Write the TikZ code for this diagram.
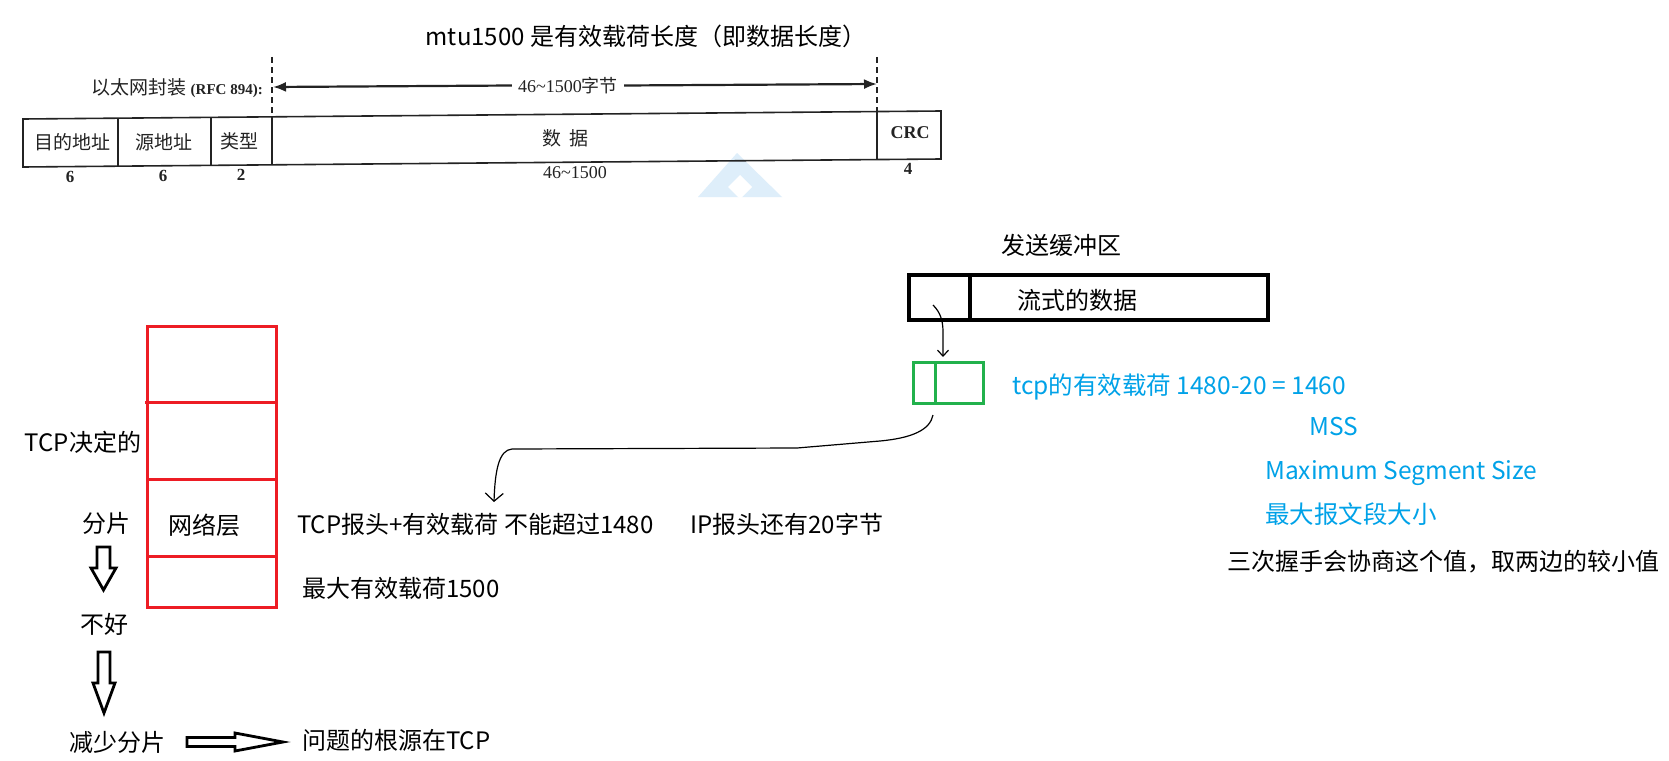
\documentclass[tikz,border=0pt]{standalone}
\usepackage{fontspec}
\setmainfont{Noto Sans CJK SC}
\newfontfamily\scanserif{Liberation Serif}
\usetikzlibrary{arrows.meta}
\definecolor{mspblue}{RGB}{0,162,232}
\definecolor{mspgreen}{RGB}{34,177,76}
\definecolor{mspred}{RGB}{237,28,36}
\definecolor{scangray}{RGB}{35,35,35}
\definecolor{wmblue}{RGB}{222,238,250}
\begin{document}
\begin{tikzpicture}[x=1pt,y=-1pt,
  txt/.style={font=\fontsize{24}{28}\selectfont, inner sep=0pt},
  bluetxt/.style={font=\fontsize{24.5}{28}\selectfont, inner sep=0pt, text=mspblue},
  scantxt/.style={font=\fontsize{19}{21}\selectfont, text=scangray, inner sep=0pt},
  scannum/.style={font=\scanserif\bfseries\fontsize{17}{19}\selectfont, text=scangray, inner sep=0pt},
  scanline/.style={draw=scangray, line width=1.6pt},
  scandash/.style={draw=scangray, line width=1.6pt, dash pattern=on 6pt off 4pt},
  thinarrow/.style={draw=black, line width=1.2pt, -{Straight Barb[length=7pt,width=12pt]}},
  blockarrow/.style={draw=black, line width=2.8pt, fill=white, line join=miter},
  redline/.style={draw=mspred, line width=3pt}
]
\useasboundingbox[fill=white] (0,0) rectangle (1669,760);

% watermark
\fill[wmblue] (698,197) -- (737,153) -- (782,197) -- cycle;
\fill[white] (740,175) -- (752,187) -- (740,199) -- (728,187) -- cycle;

% ---------- title ----------
\node[txt] (title) at (646,36) {mtu1500 是有效载荷长度（即数据长度）};

% ---------- ethernet frame (scanned figure, slightly tilted) ----------
\node[scantxt, anchor=east] (ethlbl) at (263,88) {以太网封装 {\scanserif\bfseries\fontsize{15}{17}\selectfont (RFC 894):}};
\draw[scandash] (272,57) -- (272,117);
\draw[scandash] (877,57) -- (877,112);
\coordinate (arL) at (273,87);
\coordinate (arR) at (877,84);
\node[scantxt, fill=white, inner xsep=6pt, font=\scanserif\fontsize{18}{20}\selectfont] (bytes) at (568,85.5) {46\textasciitilde1500{\fontspec{Noto Sans CJK SC}字节}};
\draw[scanline, line width=2.2pt, -{Latex[length=13pt,width=10pt]}] (bytes.west) -- (arL);
\draw[scanline, line width=2.2pt, -{Latex[length=13pt,width=10pt]}] (bytes.east) -- (arR);

\draw[scanline] (23,119) -- (941,111) -- (941,159) -- (23,167) -- cycle;
\draw[scanline] (118,118.2) -- (118,166.2);
\draw[scanline] (211,117.4) -- (211,165.4);
\draw[scanline] (272,116.8) -- (272,164.8);
\draw[scanline] (877,111.6) -- (877,159.6);

\node[scantxt] (f1) at (72,142.6) {目的地址};
\node[scantxt] (f2) at (164,141.8) {源地址};
\node[scantxt] (f3) at (239,141.1) {类型};
\node[scantxt] (f4) at (565,138.3) {数\hspace{8pt}据};
\node[scannum, font=\scanserif\bfseries\fontsize{18}{20}\selectfont] (f5) at (910,133) {CRC};
\node[scannum] (n1) at (70,176.6) {6};
\node[scannum] (n2) at (163,175.8) {6};
\node[scannum] (n3) at (241,175.1) {2};
\node[scannum, font=\scanserif\fontsize{18}{20}\selectfont] (n4) at (575,172.3) {46\textasciitilde1500};
\node[scannum] (n5) at (908,169) {4};

% ---------- send buffer ----------
\node[txt] (bufttl) at (1061,245) {发送缓冲区};
\node[draw=black, line width=3.2pt, minimum width=359pt, minimum height=45pt, inner sep=0pt] (buf) at (1088.5,297.5) {};
\draw[black, line width=3.2pt] (970,275) -- (970,320);
\node[txt] (stream) at (1077,300) {流式的数据};

\coordinate (c2s) at (933,305);
\coordinate (c2e) at (943,357);
\draw[thinarrow, -{Straight Barb[length=6pt,width=11pt]}] (c2s) .. controls (940,312) and (943,320) .. (943,332) -- (c2e);

\node[draw=mspgreen, line width=3pt, minimum width=70pt, minimum height=41pt, inner sep=0pt] (gbox) at (948,382.5) {};
\draw[mspgreen, line width=3pt] (935,362) -- (935,403);

\node[bluetxt, anchor=west] (payload) at (1012,387) {tcp的有效载荷 1480-20 = 1460};
\node[bluetxt] (mss) at (1334,427) {MSS};
\node[bluetxt, anchor=west] (mssen) at (1265,473) {Maximum Segment Size};
\node[bluetxt, anchor=west] (msszh) at (1265,514) {最大报文段大小};
\node[txt, anchor=west] (nego) at (1227,562) {三次握手会协商这个值，取两边的较小值};

% big connector
\coordinate (c1s) at (933,415);
\coordinate (c1e) at (494,502);
\draw[thinarrow, -{Straight Barb[length=8pt,width=18pt]}] (c1s) .. controls (930,430) and (912,438) .. (880,441) -- (797,448) -- (512,449) .. controls (499,450) and (495,470) .. (c1e);

% ---------- red stack ----------
\draw[redline] (147,326) rectangle (276,607);
\draw[redline] (145,402) -- (278,402);
\draw[redline] (147,479) -- (276,479);
\draw[redline] (147,556) -- (276,556);
\node[txt] (netl) at (204,525) {网络层};

\node[txt] (tcpdec) at (83,442) {TCP决定的};
\node[txt] (frag) at (106,523) {分片};
\node[txt] (bad) at (104,624) {不好};
\node[txt] (less) at (117,742) {减少分片};
\node[txt, anchor=west] (root) at (302,740) {问题的根源在TCP};
\node[txt, anchor=west] (tcphdr) at (297,524) {TCP报头+有效载荷 不能超过1480};
\node[txt, anchor=west] (iphdr) at (690,524) {IP报头还有20字节};
\node[txt, anchor=west] (maxpl) at (302,588) {最大有效载荷1500};

% block arrows
\draw[blockarrow] (97,547) -- (110,547) -- (110,568) -- (116,568) -- (103.5,590) -- (91,568) -- (97,568) -- cycle;
\draw[blockarrow] (98,652) -- (110,652) -- (110,683) -- (115,683) -- (104,713) -- (93,683) -- (98,683) -- cycle;
\draw[blockarrow] (187,737.5) -- (235,737.5) -- (235,733) -- (283,742) -- (235,751) -- (235,746.5) -- (187,746.5) -- cycle;

\end{tikzpicture}
\end{document}
